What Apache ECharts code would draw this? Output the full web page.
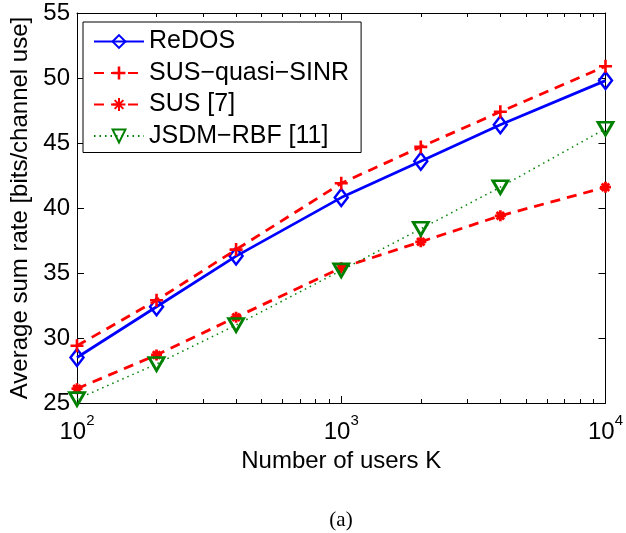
<!DOCTYPE html>
<html>
<head>
<meta charset="utf-8">
<script src="https://cdn.jsdelivr.net/npm/echarts@6/dist/echarts.min.js"></script>
<style>
  html, body { margin: 0; padding: 0; background: #fff; }
  #chart { width: 626px; height: 533px; }
</style>
</head>
<body>
<div id="chart"></div>
<script>
// Number of users K (log axis)
const users = [100, 200, 400, 1000, 2000, 4000, 10000];

// Average sum rate [bits/channel use] per scheme
const redos        = [28.5, 32.4, 36.3, 40.8, 43.6, 46.4, 49.8];
const susQuasiSinr = [29.4, 32.9, 36.8, 41.9, 44.7, 47.4, 50.9];
const sus7         = [26.1, 28.7, 31.6, 35.4, 37.4, 39.4, 41.6];
const jsdmRbf      = [25.3, 28.0, 31.0, 35.2, 38.4, 41.6, 46.1];

const seriesNames = ['ReDOS', 'SUS\u2212quasi\u2212SINR', 'SUS [7]', 'JSDM\u2212RBF [11]'];

// Axis ticks
const xMajorTicks = [100, 1000, 10000];
const xMinorTicks = [200, 300, 400, 500, 600, 700, 800, 900,
                     2000, 3000, 4000, 5000, 6000, 7000, 8000, 9000];
const yTicks = [25, 30, 35, 40, 45, 50, 55];

const FONT = '"Liberation Sans", Arial, Helvetica, sans-serif';

const pairs = (ys) => users.map((k, i) => [k, ys[i]]);

// Marker shapes
const PLUS = 'path://M4,0H6V4H10V6H6V10H4V6H0V4H4Z';
const STAR = 'path://M0,5L10,5M5,0L5,10M1.6,1.6L8.4,8.4M1.6,8.4L8.4,1.6';
const TRI_DOWN = 'path://M0,0L10,0L5,8.7Z';

const chart = echarts.init(document.getElementById('chart'), null, { renderer: 'canvas' });

const logAxisBase = {
  type: 'log', logBase: 10, min: 100, max: 10000, gridIndex: 0,
  splitLine: { show: false }
};

const option = {
  animation: false,
  backgroundColor: '#fff',
  grid: { left: 75, right: 19, top: 13, bottom: 130, containLabel: false },
  legend: {
    orient: 'vertical',
    left: 83, top: 22,
    padding: [7, 12, 4, 10],
    itemGap: 6.5,
    itemWidth: 50,
    itemHeight: 16,
    borderColor: '#000', borderWidth: 1, borderRadius: 0,
    backgroundColor: '#fff',
    textStyle: { fontFamily: FONT, fontSize: 25, color: '#000' },
    data: seriesNames
  },
  xAxis: [
    Object.assign({}, logAxisBase, {
      position: 'bottom',
      name: 'Number of users K',
      nameLocation: 'middle',
      nameGap: 42,
      nameTextStyle: { fontFamily: FONT, fontSize: 24, color: '#000' },
      axisLine: { show: true, lineStyle: { color: '#000', width: 1 } },
      axisTick: { show: true, inside: true, length: 7, lineStyle: { color: '#000' }, customValues: xMajorTicks },
      axisLabel: {
        margin: 10,
        customValues: xMajorTicks,
        formatter: (v) => '{b|10}{s|' + Math.round(Math.log10(v)) + '}',
        rich: {
          b: { fontFamily: FONT, fontSize: 24, color: '#000', lineHeight: 31, verticalAlign: 'bottom' },
          s: { fontFamily: FONT, fontSize: 15, color: '#000', lineHeight: 31, verticalAlign: 'top' }
        }
      }
    }),
    Object.assign({}, logAxisBase, {
      position: 'bottom',
      axisLine: { show: false },
      axisTick: { show: true, inside: true, length: 4, lineStyle: { color: '#000' }, customValues: xMinorTicks },
      axisLabel: { show: false }
    }),
    Object.assign({}, logAxisBase, {
      position: 'top',
      axisLine: { show: true, lineStyle: { color: '#000', width: 1 } },
      axisTick: { show: true, inside: true, length: 7, lineStyle: { color: '#000' }, customValues: xMajorTicks },
      axisLabel: { show: false }
    }),
    Object.assign({}, logAxisBase, {
      position: 'top',
      axisLine: { show: false },
      axisTick: { show: true, inside: true, length: 4, lineStyle: { color: '#000' }, customValues: xMinorTicks },
      axisLabel: { show: false }
    })
  ],
  yAxis: [
    {
      type: 'value', min: 25, max: 55, interval: 5, position: 'left',
      name: 'Average sum rate [bits/channel use]',
      nameLocation: 'middle',
      nameGap: 45,
      nameTextStyle: { fontFamily: FONT, fontSize: 24, color: '#000' },
      axisLine: { show: true, lineStyle: { color: '#000', width: 1 } },
      axisTick: { show: true, inside: true, length: 7, lineStyle: { color: '#000' } },
      axisLabel: { margin: 7, fontFamily: FONT, fontSize: 24, color: '#000',
                   customValues: yTicks },
      splitLine: { show: false }
    },
    {
      type: 'value', min: 25, max: 55, interval: 5, position: 'right',
      axisLine: { show: true, lineStyle: { color: '#000', width: 1 } },
      axisTick: { show: true, inside: true, length: 7, lineStyle: { color: '#000' } },
      axisLabel: { show: false },
      splitLine: { show: false }
    }
  ],
  series: [
    {
      name: seriesNames[0], type: 'line', data: pairs(redos),
      symbol: 'diamond', symbolSize: [13, 17],
      lineStyle: { color: '#0000ff', width: 2.8, type: 'solid' },
      itemStyle: { color: 'rgba(255,255,255,0)', borderColor: '#0000ff', borderWidth: 2.5 },
      z: 2
    },
    {
      name: seriesNames[1], type: 'line', data: pairs(susQuasiSinr),
      symbol: PLUS, symbolSize: 13,
      lineStyle: { color: '#ff0000', width: 2.8, type: [10, 7] },
      itemStyle: { color: '#ff0000', borderWidth: 0 },
      z: 3
    },
    {
      name: seriesNames[2], type: 'line', data: pairs(sus7),
      symbol: STAR, symbolSize: 11,
      lineStyle: { color: '#ff0000', width: 2.8, type: [10, 7] },
      itemStyle: { color: '#ff0000', borderColor: '#ff0000', borderWidth: 2.8 },
      z: 4
    },
    {
      name: seriesNames[3], type: 'line', data: pairs(jsdmRbf),
      symbol: TRI_DOWN, symbolSize: [15, 13],
      lineStyle: { color: '#008000', width: 1.5, type: [1.5, 4] },
      itemStyle: { color: 'rgba(255,255,255,0)', borderColor: '#008000', borderWidth: 2.8 },
      z: 5
    }
  ],
  graphic: [
    {
      type: 'text', x: 341, y: 510,
      style: { text: '(a)', font: '21px "Liberation Serif", "Times New Roman", serif',
               fill: '#000', textAlign: 'center' }
    }
  ]
};

chart.setOption(option);
</script>
</body>
</html>
